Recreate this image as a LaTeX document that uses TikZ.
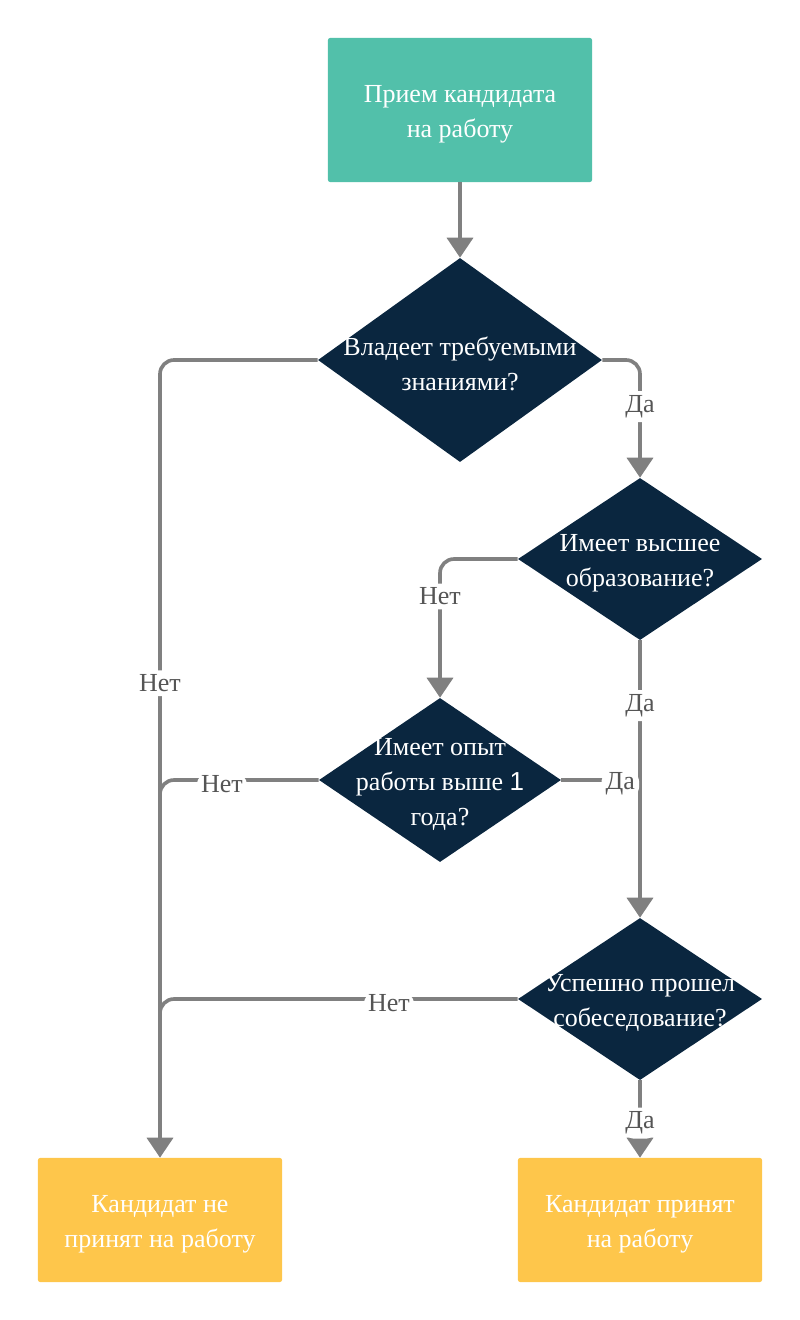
\documentclass[tikz,border=0pt]{standalone}
\usepackage{fontspec}
\setmainfont{Liberation Serif}
\newfontfamily\digitfont{Liberation Sans}
\usepackage{tikz}
\usetikzlibrary{shapes.geometric,arrows.meta}

\definecolor{startgreen}{HTML}{52C0AA}
\definecolor{asknavy}{HTML}{0A263F}
\definecolor{endyellow}{HTML}{FEC64B}
\definecolor{linegray}{HTML}{808080}
\definecolor{answergray}{HTML}{555555}

\tikzset{
  box/.style={rectangle, rounded corners=1.5pt, fill=#1, inner sep=0pt},
  ask/.style={diamond, fill=asknavy, inner sep=0pt},
  shapetext/.style={text=white, align=center, inner sep=0pt, yshift=-3pt},
  answer/.style={fill=white, text=answergray, inner sep=3pt, yshift=-3pt},
  joint/.style={draw=linegray, line width=2.6pt, rounded corners=10pt},
  link/.style={joint, -{Triangle[length=0.5cm,width=0.65cm]}}
}

\begin{document}
\begin{tikzpicture}[x=0.025cm, y=-0.025cm, every node/.append style={font=\fontsize{18.5}{25}\selectfont}]
      \useasboundingbox (0,0) rectangle (800,1320);

       %draw boxes
      \node[box=startgreen, minimum width=6.6cm, minimum height=3.6cm] (start) at (460,110) {};
      \node[box=endyellow, minimum width=6.1cm, minimum height=3.1cm] (notaken) at (160,1220) {};
      \node[box=endyellow, minimum width=6.1cm, minimum height=3.1cm] (taken) at (640,1220) {};
      \node[shapetext] at (start) {Прием кандидата\\на работу};
      \node[shapetext] at (notaken) {Кандидат не\\принят на работу};
      \node[shapetext] at (taken) {Кандидат принят\\на работу};

       %draw questions
      \foreach \name/\x/\y/\w/\h/\txt in {%
        knows/460/360/7.1/5.1/{Владеет требуемыми\\знаниями?},
        higher/640/559/6.1/4.05/{Имеет высшее\\образование?},
        experience/440/780/6.05/4.1/{Имеет опыт\\работы выше {\digitfont 1}\\года?},
        interview/640/999/6.1/4.05/{Успешно прошел\\собеседование?}} {%
        \node[ask, minimum width=\w cm, minimum height=\h cm] (\name) at (\x,\y) {};
        \node[shapetext] at (\name) {\txt};
      }

      % draw arrows
      \draw[link] (start) -- (knows);
      \draw[link] (knows.east) -| node[answer, pos=0.68] {Да} (higher.north);
      \draw[link] (knows.west) -| node[answer, pos=0.70] {Нет} (notaken.north);
      \draw[link] (higher.west) -| node[answer, pos=0.62] {Нет} (experience.north);
      \draw[link] (higher.south) -- node[answer, pos=0.22] {Да} (interview.north);
      \draw[link] (interview.south) -- node[answer, pos=0.5] {Да} (taken.north);

      % draw joins
      \coordinate (yesjoin) at (experience.east -| interview.north);
      \coordinate (nojoin1) at (160,810);
      \coordinate (nojoin2) at (160,1030);
      \draw[joint] (experience.east) -- node[answer, pos=0.75] {Да} (yesjoin);
      \draw[joint] (experience.west) -| node[answer, pos=0.305] {Нет} (nojoin1);
      \draw[joint] (interview.west) -| node[answer, pos=0.18] {Нет} (nojoin2);
    \end{tikzpicture}
\end{document}
